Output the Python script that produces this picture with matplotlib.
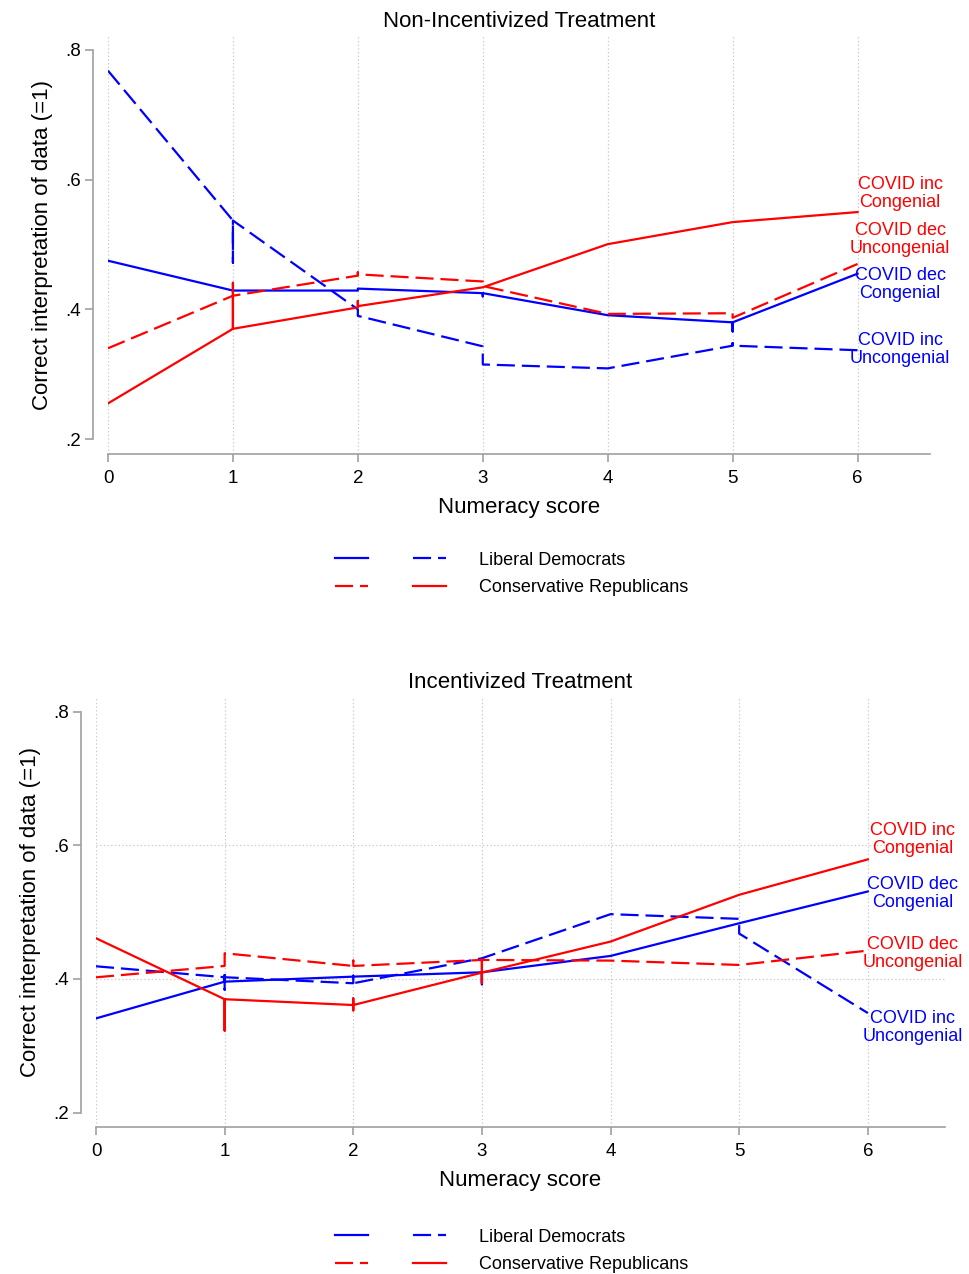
import matplotlib
matplotlib.use('Agg')
import matplotlib.pyplot as plt
from matplotlib.legend_handler import HandlerTuple

plt.rcParams['font.family'] = ['Liberation Sans', 'DejaVu Sans']
plt.rcParams['lines.scale_dashes'] = False

BLUE = '#0000ff'
RED = '#ff0000'
GREY = '#a0a0a0'
DASH = (0, (13, 5))

# Non-incentivized treatment (x = numeracy score, repeated x = jumps in the line)
top_ld_solid_x = [0, 1, 2, 2, 3, 3, 3, 4, 5, 5, 5, 6]
top_ld_solid_y = [0.475, 0.429, 0.429, 0.432, 0.425, 0.420, 0.425, 0.391, 0.380, 0.366, 0.380, 0.455]
top_ld_dash_x = [0, 1, 1, 1, 2, 2, 3, 3, 4, 5, 5, 5, 6]
top_ld_dash_y = [0.768, 0.537, 0.472, 0.537, 0.400, 0.390, 0.343, 0.315, 0.309, 0.344, 0.348, 0.344, 0.337]
top_cr_solid_x = [0, 1, 1, 1, 2, 2, 2, 3, 4, 5, 6]
top_cr_solid_y = [0.255, 0.370, 0.441, 0.370, 0.403, 0.413, 0.405, 0.434, 0.5005, 0.5345, 0.550]
top_cr_dash_x = [0, 1, 2, 2, 2, 3, 3, 4, 5, 5, 6]
top_cr_dash_y = [0.340, 0.421, 0.452, 0.457, 0.454, 0.443, 0.436, 0.393, 0.394, 0.387, 0.470]

# Incentivized treatment
bot_ld_solid_x = [0, 1, 1, 1, 2, 3, 3, 3, 4, 5, 6]
bot_ld_solid_y = [0.341, 0.396, 0.406, 0.396, 0.4035, 0.410, 0.392, 0.410, 0.4345, 0.4834, 0.531]
bot_ld_dash_x = [0, 1, 1, 1, 2, 2, 2, 3, 4, 5, 5, 6]
bot_ld_dash_y = [0.419, 0.4026, 0.384, 0.4026, 0.3936, 0.405, 0.3936, 0.431, 0.497, 0.490, 0.468, 0.349]
bot_cr_solid_x = [0, 1, 1, 1, 2, 2, 2, 2, 3, 3, 3, 3, 4, 5, 6]
bot_cr_solid_y = [0.461, 0.3697, 0.3227, 0.3697, 0.361, 0.371, 0.353, 0.361,
                  0.4095, 0.429, 0.394, 0.4095, 0.456, 0.526, 0.579]
bot_cr_dash_x = [0, 1, 1, 2, 2, 2, 3, 4, 5, 6]
bot_cr_dash_y = [0.4025, 0.4195, 0.4385, 0.4195, 0.4275, 0.4195, 0.4285, 0.4275, 0.421, 0.4425]

# end labels
label_text = ['COVID inc\nCongenial', 'COVID dec\nUncongenial', 'COVID dec\nCongenial', 'COVID inc\nUncongenial']
top_label_color = [RED, RED, BLUE, BLUE]
top_label_y = [0.578, 0.507, 0.438, 0.338]
bot_label_text = ['COVID inc\nCongenial', 'COVID dec\nCongenial', 'COVID dec\nUncongenial', 'COVID inc\nUncongenial']
bot_label_color = [RED, BLUE, RED, BLUE]
bot_label_y = [0.609, 0.528, 0.438, 0.328]

yticks = [0.2, 0.4, 0.6, 0.8]
ytick_labels = ['.2', '.4', '.6', '.8']
xticks = [0, 1, 2, 3, 4, 5, 6]

fig = plt.figure(figsize=(9.69, 12.74), dpi=100)


def panel(rect, title, ld_s, ld_d, cr_s, cr_d, labels, colors, label_y, label_x,
          xmax, ylim, hgrid, leg_y):
    ax = fig.add_axes(rect)
    l1, = ax.plot(ld_s[0], ld_s[1], color=BLUE, lw=1.6)
    l2, = ax.plot(ld_d[0], ld_d[1], color=BLUE, lw=1.6, linestyle=DASH)
    l3, = ax.plot(cr_s[0], cr_s[1], color=RED, lw=1.6)
    l4, = ax.plot(cr_d[0], cr_d[1], color=RED, lw=1.6, linestyle=DASH)
    for t, c, y in zip(labels, colors, label_y):
        ax.text(label_x, y, t, color=c, ha='center', va='center', fontsize=13,
                linespacing=1.08, clip_on=False)

    ax.set_xlim(0, xmax)
    ax.set_ylim(*ylim)
    ax.set_xticks(xticks)
    ax.set_yticks(yticks)
    ax.set_yticklabels(ytick_labels)
    ax.grid(axis='x', color='#cccccc', linestyle=':', lw=0.9)
    for h in hgrid:
        ax.axhline(h, color='#cccccc', linestyle=':', lw=0.9, zorder=0)
    ax.set_axisbelow(True)

    for s in ['top', 'right']:
        ax.spines[s].set_visible(False)
    ax.spines['left'].set_position(('outward', 10.5))
    ax.spines['left'].set_bounds(0.2, 0.8)
    for s in ['left', 'bottom']:
        ax.spines[s].set_color(GREY)
        ax.spines[s].set_linewidth(1.2)
    ax.tick_params(axis='both', colors=GREY, labelcolor='black', labelsize=13.5,
                   length=5.5, width=1.2)
    ax.tick_params(axis='x', pad=6)
    ax.tick_params(axis='y', length=6, pad=3)

    ax.set_title(title, fontsize=16, pad=6)
    ax.set_xlabel('Numeracy score', fontsize=16, labelpad=7)
    ax.set_ylabel('Correct interpretation of data (=1)', fontsize=16, labelpad=9)

    fig.legend([(l1, l2), (l4, l3)], ['Liberal Democrats', 'Conservative Republicans'],
               handler_map={tuple: HandlerTuple(ndivide=None, pad=2.5)},
               loc='center', bbox_to_anchor=(512 / 969, leg_y),
               frameon=False, fontsize=13, handlelength=6.15, handletextpad=1.83,
               labelspacing=0.6)
    return ax


panel([108 / 969, 1 - 454 / 1274, 822 / 969, 419 / 1274], 'Non-Incentivized Treatment',
      (top_ld_solid_x, top_ld_solid_y), (top_ld_dash_x, top_ld_dash_y),
      (top_cr_solid_x, top_cr_solid_y), (top_cr_dash_x, top_cr_dash_y),
      label_text, top_label_color, top_label_y, 6.34,
      6.58, (0.177, 0.823), [], 1 - 574 / 1274)

panel([96 / 969, 1 - 1127.3 / 1274, 849 / 969, 430.6 / 1274], 'Incentivized Treatment',
      (bot_ld_solid_x, bot_ld_solid_y), (bot_ld_dash_x, bot_ld_dash_y),
      (bot_cr_solid_x, bot_cr_solid_y), (bot_cr_dash_x, bot_cr_dash_y),
      bot_label_text, bot_label_color, bot_label_y, 6.35,
      6.6, (0.178, 0.8225), [0.4, 0.6], 1 - 1251 / 1274)

fig.savefig('out.png', dpi=100)
